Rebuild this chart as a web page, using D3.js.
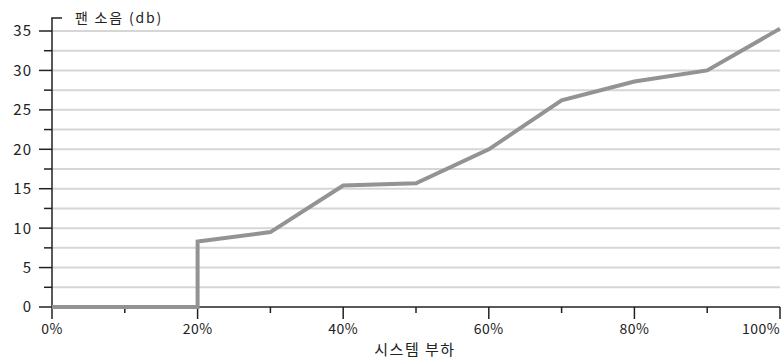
<!DOCTYPE html>
<html>
<head>
<meta charset="utf-8">
<script src="https://cdn.jsdelivr.net/npm/d3@7"></script>
<style>
  body { margin: 0; background: #fff; }
  text { font-family: "Noto Sans CJK KR", "Noto Sans", sans-serif; fill: #222; font-weight: 400; }
</style>
</head>
<body>
<svg id="chart" width="782" height="360"></svg>
<script>
// system load (%) and fan noise (db), step at 20%
const loads = [0, 10, 20, 20, 30, 40, 50, 60, 70, 80, 90, 100];
const noise = [0, 0, 0, 8.3, 9.5, 15.4, 15.7, 20, 26.2, 28.6, 30, 35.3];
const yTicks = [0, 5, 10, 15, 20, 25, 30, 35];
const yMinor = [2.5, 7.5, 12.5, 17.5, 22.5, 27.5, 32.5];
const xTicks = [0, 20, 40, 60, 80, 100];
const xMinor = [10, 30, 50, 70, 90];
const yTitle = "팬 소음 (db)";
const xTitle = "시스템 부하";

const svg = d3.select("#chart");
const margin = {left: 52, right: 2, top: 31, bottom: 53};
const width = 782, height = 360;

const x = d3.scaleLinear().domain([0, 100]).range([margin.left, width - margin.right]);
const y = d3.scaleLinear().domain([0, 35]).range([height - margin.bottom, margin.top]);

// gridlines
svg.append("g")
    .selectAll("line")
    .data(yTicks.concat(yMinor).filter(d => d > 0))
    .join("line")
    .attr("x1", x(0))
    .attr("x2", x(100))
    .attr("y1", d => y(d))
    .attr("y2", d => y(d))
    .attr("stroke", "#d6d6d6")
    .attr("stroke-width", 2);

// y axis
const yAxis = svg.append("g").attr("transform", "translate(" + x(0) + ",0)");
yAxis.append("line")
    .attr("y1", y(0)).attr("y2", y(35) - 13)
    .attr("stroke", "#222").attr("stroke-width", 1.5);
yAxis.append("line")
    .attr("x1", -0.75).attr("x2", 10)
    .attr("y1", y(35) - 13).attr("y2", y(35) - 13)
    .attr("stroke", "#222").attr("stroke-width", 1.5);
yAxis.selectAll(".major")
    .data(yTicks)
    .join("line")
    .attr("x1", -13).attr("x2", 0)
    .attr("y1", d => y(d)).attr("y2", d => y(d))
    .attr("stroke", "#222").attr("stroke-width", 1.5);
yAxis.selectAll(".minor")
    .data(yMinor)
    .join("line")
    .attr("x1", -8).attr("x2", 0)
    .attr("y1", d => y(d)).attr("y2", d => y(d))
    .attr("stroke", "#222").attr("stroke-width", 1.5);
yAxis.selectAll("text")
    .data(yTicks)
    .join("text")
    .attr("x", -20)
    .attr("y", d => y(d))
    .attr("dy", "0.36em")
    .attr("text-anchor", "end")
    .attr("font-size", 15)
    .attr("letter-spacing", 1)
    .text(d => d);

svg.append("text")
    .attr("x", 75)
    .attr("y", y(35) - 8)
    .attr("font-size", 14)
    .attr("letter-spacing", 1.8)
    .text(yTitle);

// x axis
const xAxis = svg.append("g").attr("transform", "translate(0," + y(0) + ")");
xAxis.append("line")
    .attr("x1", x(0)).attr("x2", x(100))
    .attr("stroke", "#222").attr("stroke-width", 1.5);
xAxis.selectAll(".major")
    .data(xTicks)
    .join("line")
    .attr("x1", d => x(d)).attr("x2", d => x(d))
    .attr("y1", 0).attr("y2", 12)
    .attr("stroke", "#222").attr("stroke-width", 1.5);
xAxis.selectAll(".minor")
    .data(xMinor)
    .join("line")
    .attr("x1", d => x(d)).attr("x2", d => x(d))
    .attr("y1", 0).attr("y2", 6)
    .attr("stroke", "#222").attr("stroke-width", 1.5);
xAxis.selectAll("text")
    .data(xTicks)
    .join("text")
    .attr("x", d => d === 100 ? x(d) - 19 : x(d))
    .attr("y", 27)
    .attr("text-anchor", "middle")
    .attr("font-size", 14)
    .attr("letter-spacing", 0.5)
    .text(d => d + "%");

svg.append("text")
    .attr("x", 415)
    .attr("y", height - 5)
    .attr("text-anchor", "middle")
    .attr("font-size", 15)
    .attr("letter-spacing", 1.5)
    .text(xTitle);

// the line
const line = d3.line()
    .x((d, i) => x(loads[i]))
    .y(d => y(d));

svg.append("path")
    .datum(noise)
    .attr("d", line)
    .attr("fill", "none")
    .attr("stroke", "#939393")
    .attr("stroke-width", 4)
    .attr("stroke-linejoin", "miter");
</script>
</body>
</html>
